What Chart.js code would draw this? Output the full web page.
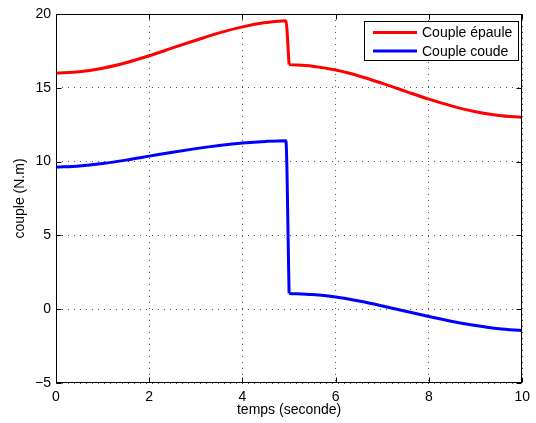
<!DOCTYPE html>
<html>
<head>
<meta charset="utf-8">
<script src="https://cdn.jsdelivr.net/npm/chart.js@4/dist/chart.umd.min.js"></script>
<style>
  html, body { margin: 0; padding: 0; background: #fff; }
  canvas { display: block; }
</style>
</head>
<body>
<canvas id="coupleChart" width="536" height="423"></canvas>
<script>
// temps (s) and torque values
const temps = [0, 0.5, 1, 1.5, 2, 2.5, 3, 3.5, 4, 4.5, 4.93, 5, 5.5, 6, 6.5, 7, 7.5, 8, 8.5, 9, 9.5, 10];
const coupleEpaule = [16.0, 16.09, 16.33, 16.7, 17.17, 17.7, 18.22, 18.72, 19.13, 19.42, 19.55, 16.57, 16.46, 16.2, 15.8, 15.3, 14.76, 14.23, 13.76, 13.38, 13.12, 13.0];
const coupleCoude = [9.62, 9.7, 9.87, 10.1, 10.37, 10.64, 10.88, 11.09, 11.26, 11.37, 11.42, 1.07, 0.99, 0.82, 0.55, 0.22, -0.14, -0.5, -0.83, -1.11, -1.33, -1.45];
const seriesLabels = ['Couple épaule', 'Couple coude'];
const seriesColors = ['#ff0000', '#0000ff'];
const xTicks = [0, 2, 4, 6, 8, 10];
const yTicks = [-5, 0, 5, 10, 15, 20];
const dropIndex = 11; // the step at t = 5 s

const FONT = '"Liberation Sans", Arial, Helvetica, sans-serif';
Chart.defaults.font.family = FONT;
Chart.defaults.font.size = 14;
Chart.defaults.color = '#000';

const toPoints = (ys) => ys.map((y, i) => ({ x: temps[i], y: y }));

// each curve in two pieces so the step stays a straight line
function makeDatasets(ys, label, color) {
    const pts = toPoints(ys);
    const base = { label: label, borderColor: color, borderWidth: 3, pointRadius: 0, fill: false, cubicInterpolationMode: 'monotone' };
    return [
        Object.assign({}, base, { data: pts.slice(0, dropIndex + 1) }),
        Object.assign({}, base, { data: pts.slice(dropIndex) })
    ];
}

// MATLAB-like box, inward ticks and legend
const matlabAxes = {
    id: 'matlabAxes',
    afterDraw(chart) {
        const ctx = chart.ctx;
        const a = chart.chartArea;
        const xs = chart.scales.x, ys = chart.scales.y;
        const L = Math.round(a.left) + 0.5, R = Math.round(a.right) - 0.5;
        const T = Math.round(a.top) + 0.5, B = Math.round(a.bottom) - 0.5;
        ctx.save();
        ctx.strokeStyle = '#000';
        ctx.lineWidth = 1;
        ctx.setLineDash([]);
        ctx.strokeRect(L, T, R - L, B - T);
        const tl = 5;
        ctx.beginPath();
        xTicks.forEach(v => {
            const px = Math.round(xs.getPixelForValue(v)) + 0.5;
            ctx.moveTo(px, B); ctx.lineTo(px, B - tl);
            ctx.moveTo(px, T); ctx.lineTo(px, T + tl);
        });
        yTicks.forEach(v => {
            const py = Math.round(ys.getPixelForValue(v)) + 0.5;
            ctx.moveTo(L, py); ctx.lineTo(L + tl, py);
            ctx.moveTo(R, py); ctx.lineTo(R - tl, py);
        });
        ctx.stroke();

        // legend box
        const bx = 364.5, by = 21.5, bw = 154, bh = 39;
        ctx.fillStyle = '#fff';
        ctx.fillRect(bx, by, bw, bh);
        ctx.strokeRect(bx, by, bw, bh);
        ctx.font = '14px ' + FONT;
        ctx.textBaseline = 'middle';
        ctx.textAlign = 'left';
        seriesLabels.forEach((lab, i) => {
            const yy = 32.5 + i * 18.5;
            ctx.strokeStyle = seriesColors[i];
            ctx.lineWidth = 3;
            ctx.beginPath();
            ctx.moveTo(373, yy); ctx.lineTo(417, yy);
            ctx.stroke();
            ctx.fillStyle = '#000';
            ctx.fillText(lab, 422, yy + 1);
        });
        ctx.restore();
    }
};

new Chart(document.getElementById('coupleChart'), {
    type: 'line',
    data: {
        datasets: [
            ...makeDatasets(coupleEpaule, seriesLabels[0], seriesColors[0]),
            ...makeDatasets(coupleCoude, seriesLabels[1], seriesColors[1])
        ]
    },
    options: {
        responsive: false,
        animation: false,
        devicePixelRatio: 1,
        layout: { padding: { top: 14, right: 12, left: 0, bottom: 0 } },
        plugins: {
            legend: { display: false },
            tooltip: { enabled: false }
        },
        scales: {
            x: {
                type: 'linear',
                min: 0,
                max: 10,
                afterFit: (s) => { s.height = 40; },
                afterBuildTicks: (s) => { s.ticks = xTicks.map(v => ({ value: v })); },
                ticks: { padding: 6, maxRotation: 0 },
                grid: { color: '#555', lineWidth: 1, drawTicks: false },
                border: { display: false, dash: [1, 5] },
                title: { display: true, text: 'temps (seconde)', padding: { top: 0, bottom: 4 } }
            },
            y: {
                min: -5,
                max: 20,
                afterFit: (s) => { s.width = 56; },
                afterBuildTicks: (s) => { s.ticks = yTicks.map(v => ({ value: v })); },
                ticks: {
                    padding: 5,
                    callback: (v) => String(v).replace('-', '\u2212')
                },
                grid: { color: '#555', lineWidth: 1, drawTicks: false },
                border: { display: false, dash: [1, 5] },
                title: { display: true, text: 'couple (N.m)', padding: { top: 12, bottom: 0 } }
            }
        }
    },
    plugins: [matlabAxes]
});
</script>
</body>
</html>
